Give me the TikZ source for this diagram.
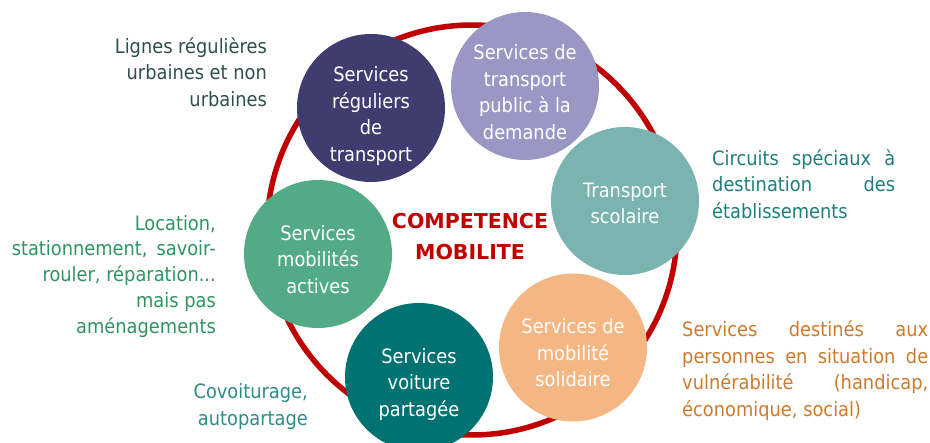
\documentclass[tikz,border=0pt]{standalone}
\usepackage{fontspec}
\setmainfont{DejaVu Sans}[FakeStretch=0.9]
\newfontfamily\titlef{DejaVu Sans}
\definecolor{cnavy}{HTML}{3F3D70}
\definecolor{clav}{HTML}{9A97C5}
\definecolor{cteal}{HTML}{7AB3AF}
\definecolor{corange}{HTML}{F4B683}
\definecolor{cdteal}{HTML}{007272}
\definecolor{cgreen}{HTML}{52AB84}
\definecolor{ringred}{HTML}{C00000}
\definecolor{tslate}{HTML}{2F4F4F}
\definecolor{tteal}{HTML}{1F7E7B}
\definecolor{torange}{HTML}{CF7A2B}
\definecolor{tgreen}{HTML}{2F9461}
\definecolor{tcov}{HTML}{318B8B}
\newcommand{\fs}{\rule{0pt}{17pt}}
\begin{document}
\begin{tikzpicture}[x=1pt,y=-1pt,
  disc/.style={circle,minimum size=148pt,inner sep=0pt},
  ctext/.style={anchor=north,align=center,text=white,inner sep=0pt,font=\fontsize{19.8}{26.5}\selectfont},
  side/.style={inner sep=0pt,font=\fontsize{19.8}{26.5}\selectfont}]
\useasboundingbox (0,0) rectangle (930,443);
\node[circle,draw=ringred,line width=5.5pt,minimum size=410pt,inner sep=0pt] (ring) at (472,230) {};
\node[anchor=north,align=center,inner sep=0pt,text=ringred,font=\titlef\bfseries\fontsize{20.5}{31}\selectfont] (title) at (470,208) {\rule{0pt}{20pt}COMPETENCE\\MOBILITE};
% circles
\node[disc,fill=cnavy] (c1) at (371,108) {};
\node[disc,fill=clav] (c2) at (525,86) {};
\node[disc,fill=cteal] (c3) at (625,201) {};
\node[disc,fill=corange] (c4) at (573,347.5) {};
\node[disc,fill=cdteal] (c5) at (419,377) {};
\node[disc,fill=cgreen] (c6) at (318,254) {};
% circle texts
\node[ctext] (t1) at (371,64.5) {\fs Services\\réguliers\\de\\transport};
\node[ctext] (t2) at (525,42.5) {\fs Services de\\transport\\public à la\\demande};
\node[ctext] (t3) at (625,180.25) {\fs Transport\\scolaire};
\node[ctext] (t4) at (573,316.5) {\fs Services de\\mobilité\\solidaire};
\node[ctext] (t5) at (419,346) {\fs Services\\voiture\\partagée};
\node[ctext] (t6) at (318,223) {\fs Services\\mobilités\\actives};
% side texts
\node[side,anchor=north east,align=right,text=tslate] (s1) at (267,36) {\fs Lignes régulières\\urbaines et non\\urbaines};
\node[side,anchor=north west,align=left,text=tteal] (s2) at (712,148) {\fs\makebox[183pt][s]{Circuits spéciaux à}\\\makebox[183pt][s]{destination des}\\établissements};
\node[side,anchor=north west,align=left,text=torange] (s3) at (682,319.5) {\fs\makebox[246pt][s]{Services destinés aux}\\\makebox[246pt][s]{personnes en situation de}\\\makebox[246pt][s]{vulnérabilité (handicap,}\\économique, social)};
\node[side,anchor=north east,align=right,text=tgreen,font=\fontsize{19.8}{25.8}\selectfont] (s4) at (216,213) {\fs Location,\\stationnement,\, savoir-\\rouler, réparation...\\mais pas\\aménagements};
\node[side,anchor=north east,align=right,text=tcov,font=\fontsize{19.8}{27}\selectfont] (s5) at (308,381) {\fs Covoiturage,\\autopartage};
\end{tikzpicture}
\end{document}
